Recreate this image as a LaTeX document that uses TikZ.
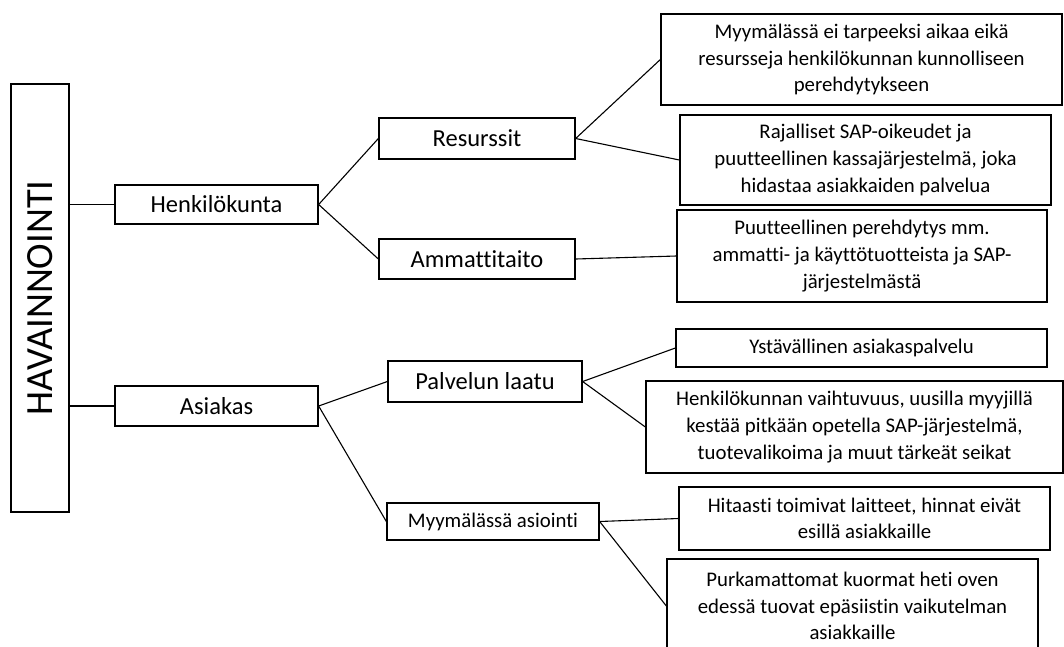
\documentclass[tikz,border=0pt]{standalone}
\usepackage{fontspec}
\setmainfont{Carlito}[Ligatures=NoCommon]
\begin{document}
\begin{tikzpicture}[x=1pt,y=-1pt,
  box/.style={draw=black,line width=1.3pt,rectangle,inner sep=0pt,align=center,anchor=center},
  mainf/.style={font=\fontsize{24.5}{29}\selectfont},
  smallf/.style={font=\fontsize{20.8}{26.6}\selectfont},
  conn/.style={draw=black,line width=1.1pt}]
\useasboundingbox (0,0) rectangle (1064,646);
\clip (0,0) rectangle (1064,646);
\node[box,minimum width=58pt,minimum height=428pt] (hav) at (40,298) {};
\node[rotate=90,font=\fontsize{38.5}{44}\selectfont,inner sep=0pt] (havt) at (40,298) {HAVAINNOINTI};
\node[box,mainf,minimum width=203pt,minimum height=39pt] (henk) at (216.5,204.5) {Henkilökunta};
\node[box,mainf,minimum width=203pt,minimum height=40pt] (asi) at (216.5,406) {Asiakas};
\node[box,mainf,minimum width=196pt,minimum height=41pt] (res) at (477,138.5) {Resurssit};
\node[box,mainf,minimum width=196pt,minimum height=40pt] (amm) at (477,259) {Ammattitaito};
\node[box,mainf,minimum width=194pt,minimum height=41pt] (pal) at (485,381.5) {Palvelun laatu};
\node[box,smallf,minimum width=212pt,minimum height=37pt] (myy) at (493,521.5) {Myymälässä asiointi};
\node[box,smallf,minimum width=401pt,minimum height=91pt] (b1) at (861.5,59.5) {Myymälässä ei tarpeeksi aikaa eikä\\resursseja henkilökunnan kunnolliseen\\perehdytykseen};
\node[box,smallf,minimum width=371pt,minimum height=90pt] (b2) at (865.5,160) {Rajalliset SAP-oikeudet ja\\puutteellinen kassajärjestelmä, joka\\hidastaa asiakkaiden palvelua};
\node[box,smallf,minimum width=370pt,minimum height=92pt] (b3) at (862,256) {Puutteellinen perehdytys mm.\\ammatti- ja käyttötuotteista ja SAP-\\järjestelmästä};
\node[box,smallf,minimum width=371pt,minimum height=38pt] (b4) at (861.5,348) {Ystävällinen asiakaspalvelu};
\node[box,smallf,minimum width=417pt,minimum height=92pt] (b5) at (854.5,427) {Henkilökunnan vaihtuvuus, uusilla myyjillä\\kestää pitkään opetella SAP-järjestelmä,\\tuotevalikoima ja muut tärkeät seikat};
\node[box,smallf,minimum width=371pt,minimum height=63pt] (b6) at (864.5,518.5) {Hitaasti toimivat laitteet, hinnat eivät\\esillä asiakkaille};
\node[box,smallf,minimum width=371pt,minimum height=94pt] (b7) at (852.5,606) {Purkamattomat kuormat heti oven\\edessä tuovat epäsiistin vaikutelman\\asiakkaille};
\draw[conn] (henk.west) -- (henk.west -| hav.east);
\draw[conn] (asi.west) -- (asi.west -| hav.east);
\draw[conn] (henk.east) -- (res.west);
\draw[conn] (henk.east) -- (amm.west);
\draw[conn] (asi.east) -- (pal.west);
\draw[conn] (asi.east) -- (myy.west);
\draw[conn] (res.east) -- (b1.west);
\draw[conn] (res.east) -- (b2.west);
\draw[conn] (amm.east) -- (b3.west);
\draw[conn] (pal.east) -- (b4.west);
\draw[conn] (pal.east) -- (b5.west);
\draw[conn] (myy.east) -- (b6.west);
\draw[conn] (myy.east) -- (b7.west);
\end{tikzpicture}
\end{document}
